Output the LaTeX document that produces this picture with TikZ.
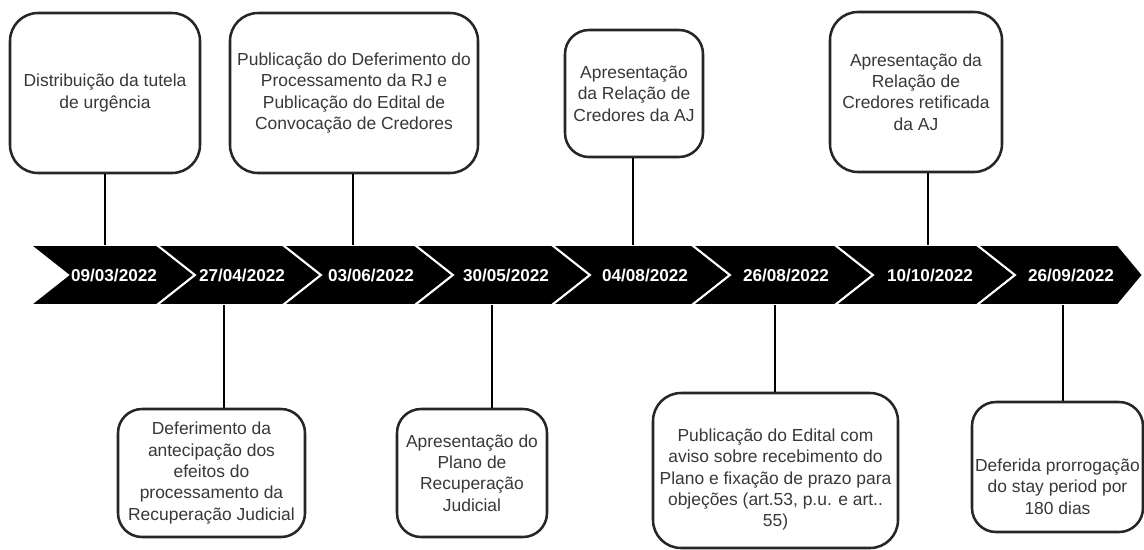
\documentclass[tikz,border=0pt]{standalone}
\usepackage{fontspec}
\setmainfont{Liberation Sans}
\usetikzlibrary{calc}
\def\px{0.025cm}

\tikzset{
	evbox/.style={draw=black!85, line width=1.8pt, rounded corners=0.7cm, fill=white, align=center, text=black!78, font=\fontsize{12.4}{15.2}\selectfont, inner sep=1pt},
	datelabel/.style={text=white, font=\fontsize{12.2}{14}\selectfont\bfseries},
	chevron/.style={fill=black, draw=white, line width=1.4pt, line join=miter},
	tick/.style={draw=black, line width=0.8pt}
}

\begin{document}
\begin{tikzpicture}[x=0.025cm, y=-0.025cm]
		%%%%% START %%%%%
		\useasboundingbox (0,0) rectangle (1144,549);
		
		% band of dates
		\draw[chevron] (30,245) -- (157,245) -- (195,275) -- (157,305) -- (30,305) -- (68,275) -- cycle;
		\draw[chevron] (157,245) -- (283,245) -- (321,275) -- (283,305) -- (157,305) -- (195,275) -- cycle;
		\draw[chevron] (283,245) -- (415,245) -- (453,275) -- (415,305) -- (283,305) -- (321,275) -- cycle;
		\draw[chevron] (415,245) -- (552,245) -- (590,275) -- (552,305) -- (415,305) -- (453,275) -- cycle;
		\draw[chevron] (552,245) -- (692,245) -- (730,275) -- (692,305) -- (552,305) -- (590,275) -- cycle;
		\draw[chevron] (692,245) -- (835,245) -- (873,275) -- (835,305) -- (692,305) -- (730,275) -- cycle;
		\draw[chevron] (835,245) -- (977,245) -- (1015,275) -- (977,305) -- (835,305) -- (873,275) -- cycle;
		\draw[chevron] (977,245) -- (1118,245) -- (1143,275) -- (1118,305) -- (977,305) -- (1015,275) -- cycle;
		
		\node[datelabel] (d1) at (114,275) {09/03/2022};
		\node[datelabel] (d2) at (242,275) {27/04/2022};
		\node[datelabel] (d3) at (371,275) {03/06/2022};
		\node[datelabel] (d4) at (506,275) {30/05/2022};
		\node[datelabel] (d5) at (645,275) {04/08/2022};
		\node[datelabel] (d6) at (786,275) {26/08/2022};
		\node[datelabel] (d7) at (930,275) {10/10/2022};
		\node[datelabel] (d8) at (1071,275) {26/09/2022};
		
		% events above
		\node[evbox, minimum width=190*\px, minimum height=160*\px] (b1) at (105,93) {Distribuição da tutela\\de urgência};
		\node[evbox, minimum width=248*\px, minimum height=160*\px] (b2) at (354,93) {Publicação do Deferimento do\\Processamento da RJ e\\Publicação do Edital de\\Convocação de Credores};
		\node[evbox, minimum width=138*\px, minimum height=127*\px, rounded corners=0.6cm] (b3) at (634,93.5) {Apresentação\\da Relação de\\Credores da AJ};
		\node[evbox, minimum width=172*\px, minimum height=160*\px] (b4) at (916,92) {Apresentação da\\Relação de\\Credores retificada\\da AJ};
		
		% events below
		\node[evbox, minimum width=187*\px, minimum height=128*\px, rounded corners=0.6cm] (b5) at (211.5,473) {Deferimento da\\antecipação dos\\efeitos do\\processamento da\\Recuperação Judicial};
		\node[evbox, minimum width=150*\px, minimum height=128*\px, rounded corners=0.6cm] (b6) at (472,473) {Apresentação do\\Plano de\\Recuperação\\Judicial};
		\node[evbox, minimum width=245*\px, minimum height=155*\px] (b7) at (775.5,470.5) {\rule{0pt}{21.8pt}Publicação do Edital com\\aviso sobre recebimento do\\Plano e fixação de prazo para\\objeções (art.53, p.u. e art..\\55)};
		\node[evbox, minimum width=171*\px, minimum height=130*\px, rounded corners=0.6cm] (b8) at (1057.5,467) {\rule{0pt}{37pt}Deferida prorrogação\\do stay period por\\180 dias};
		
		% ticks
		\coordinate (t1) at (105,245);
		\coordinate (t2) at (353,245);
		\coordinate (t3) at (633,245);
		\coordinate (t4) at (928,245);
		\coordinate (u1) at (224,305);
		\coordinate (u2) at (492,305);
		\coordinate (u3) at (775,305);
		\coordinate (u4) at (1063,305);
		
		\draw[tick] (b1.south -| t1) -- (t1);
		\draw[tick] (b2.south -| t2) -- (t2);
		\draw[tick] (b3.south -| t3) -- (t3);
		\draw[tick] (b4.south -| t4) -- (t4);
		\draw[tick] (u1) -- (b5.north -| u1);
		\draw[tick] (u2) -- (b6.north -| u2);
		\draw[tick] (u3) -- (b7.north -| u3);
		\draw[tick] (u4) -- (b8.north -| u4);
		
		%%%%% END %%%%%
	\end{tikzpicture}
\end{document}
